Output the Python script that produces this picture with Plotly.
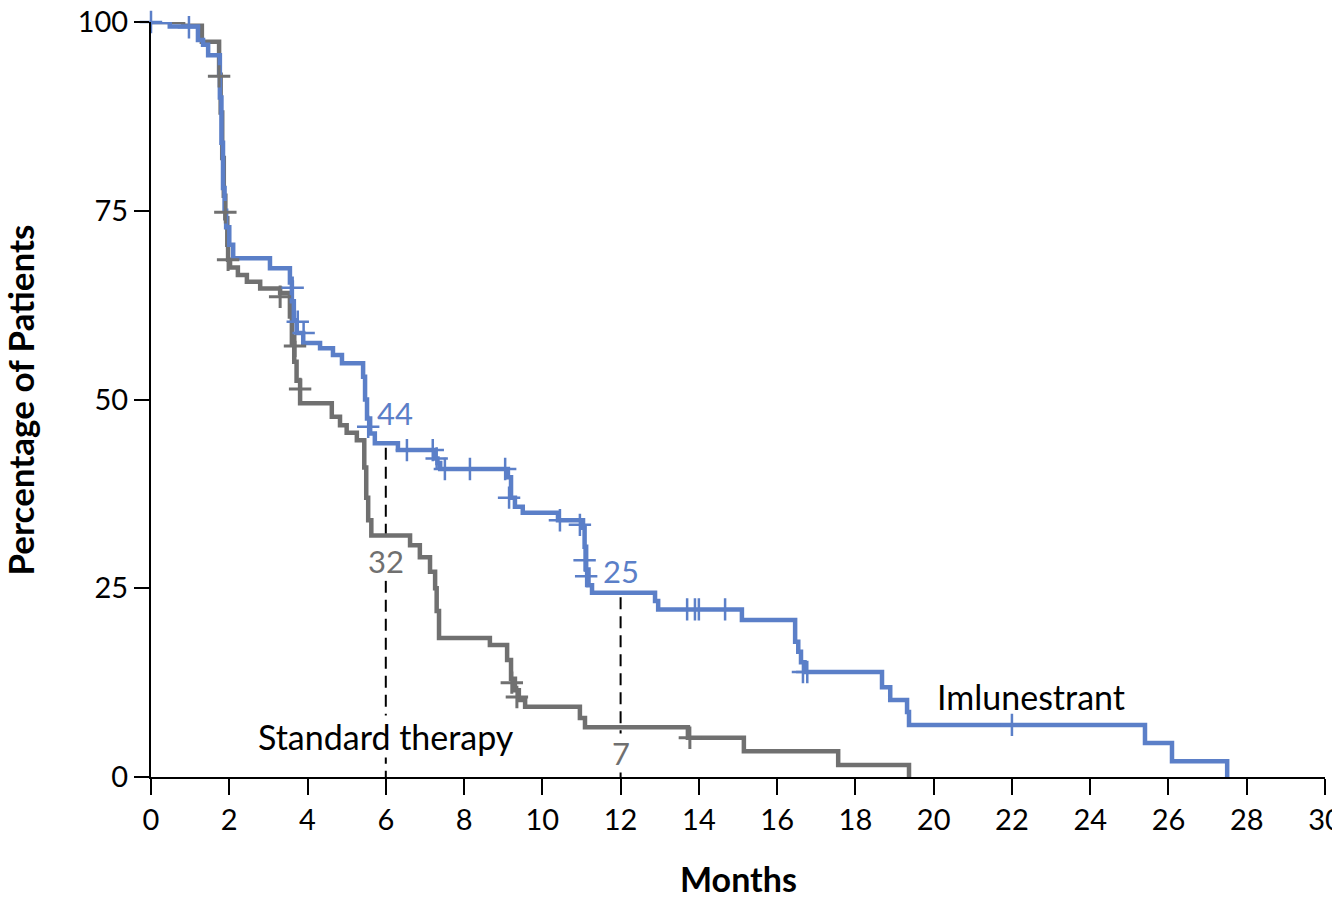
import plotly.graph_objects as go

# ---------------- data ----------------
# Imlunestrant Kaplan-Meier steps: time (months) and % after the step
imlu_t = [0, 0.48, 1.2, 1.33, 1.46, 1.76, 1.80, 1.84, 1.88, 1.92, 2.0, 2.1,
          3.04, 3.55, 3.6, 3.65, 3.72, 3.89, 4.32, 4.65, 4.88, 5.42, 5.47, 5.52,
          5.6, 5.72, 6.31, 7.26, 7.32, 7.39, 9.12, 9.2, 9.3, 9.5, 10.4, 11.04,
          11.08, 11.12, 11.18, 11.27, 12.88, 12.96, 15.1, 16.46, 16.54, 16.61,
          16.7, 18.68, 18.89, 19.32, 19.37, 25.4, 26.09, 27.5]
imlu_s = [100, 99.4, 97.6, 97.0, 95.6, 90.0, 84.0, 78.0, 75.0, 72.8, 70.5, 68.7,
          67.4, 65.5, 63.0, 60.5, 58.8, 57.5, 56.8, 55.9, 54.8, 53.0, 50.0, 47.5,
          45.5, 44.2, 43.3, 42.2, 41.6, 40.8, 39.7, 37.0, 35.8, 35.0, 34.0, 33.0,
          30.5, 27.5, 25.4, 24.4, 23.3, 22.2, 20.8, 17.9, 16.6, 15.2,
          13.9, 11.9, 10.2, 8.6, 6.9, 4.5, 2.1, 0]
imlu_cens_t = [0, 0.97, 3.62, 3.75, 3.9, 5.55, 6.54, 7.2, 7.3, 7.51, 8.15, 9.05,
               9.15, 10.45, 10.96, 11.08, 11.12, 13.7, 13.9, 14.0, 14.67, 16.66,
               16.77, 22.0]
imlu_cens_s = [100, 99.3, 64.8, 60.3, 58.8, 46.4, 43.3, 43.3, 42.2, 40.8, 40.8, 40.8,
               37.0, 34.0, 33.4, 28.7, 26.6, 22.2, 22.2, 22.2, 22.2, 13.9,
               13.9, 6.9]

# Standard therapy Kaplan-Meier steps
std_t = [0, 0.82, 1.3, 1.74, 1.78, 1.82, 1.86, 1.9, 1.95, 1.97, 2.02, 2.22,
         2.45, 2.79, 3.3, 3.55, 3.6, 3.66, 3.72, 3.81, 4.62, 4.83, 5.0, 5.26,
         5.45, 5.5, 5.55, 5.63, 6.62, 6.87, 7.13, 7.26, 7.3, 7.36, 8.66, 9.1,
         9.2, 9.3, 9.4, 9.56, 10.96, 11.09, 13.72, 15.15, 17.56, 19.37]
std_s = [100, 99.5, 97.4, 93.0, 88.0, 82.0, 77.0, 74.0, 70.5, 68.5, 67.5, 66.5,
         65.6, 64.7, 64.1, 61.0, 57.5, 55.0, 52.5, 49.5, 47.7, 46.6, 45.6, 44.6,
         41.0, 37.0, 34.0, 32.0, 30.7, 29.1, 27.2, 25.0, 22.0, 18.4, 17.5, 15.5,
         13.0, 11.5, 10.2, 9.3, 7.8, 6.6, 5.2, 3.4, 1.6, 0]
std_cens_t = [1.74, 1.9, 1.97, 3.3, 3.68, 3.81, 9.22, 9.35, 13.77]
std_cens_s = [92.8, 74.8, 68.5, 63.6, 57.1, 51.4, 12.5, 10.6, 5.2]

# landmark months and their printed percentages
landmarks = [6, 12]
imlu_land_labels = ["44", "25"]
std_land_labels = ["32", "7"]

x_ticks = list(range(0, 31, 2))
y_ticks = [0, 25, 50, 75, 100]

BLUE = "#5b7fc8"
GRAY = "#707070"
FONT = "Lato"


def step_value(ts, ss, x):
    v = ss[0]
    for t, s in zip(ts, ss):
        if t <= x:
            v = s
    return v


fig = go.Figure()

# dashed landmark lines (from the Imlunestrant curve down to 0)
for m in landmarks:
    top = step_value(imlu_t, imlu_s, m)
    fig.add_trace(go.Scatter(x=[m, m], y=[top - 0.6, 0], mode="lines",
                             line=dict(color="black", width=2, dash="12px,7px"),
                             hoverinfo="skip", showlegend=False))

fig.add_trace(go.Scatter(x=std_t, y=std_s, mode="lines", line_shape="hv",
                         line=dict(color=GRAY, width=4.5), name="Standard therapy",
                         cliponaxis=False, showlegend=False))
fig.add_trace(go.Scatter(x=imlu_t, y=imlu_s, mode="lines", line_shape="hv",
                         line=dict(color=BLUE, width=4.5), name="Imlunestrant",
                         cliponaxis=False, showlegend=False))
fig.add_trace(go.Scatter(x=std_cens_t, y=std_cens_s, mode="markers",
                         marker=dict(symbol="cross-thin", size=16,
                                     line=dict(color=GRAY, width=3)),
                         cliponaxis=False, showlegend=False))
fig.add_trace(go.Scatter(x=imlu_cens_t, y=imlu_cens_s, mode="markers",
                         marker=dict(symbol="cross-thin", size=16,
                                     line=dict(color=BLUE, width=2.5)),
                         cliponaxis=False, showlegend=False))

# landmark labels
for m, lab_i, lab_s in zip(landmarks, imlu_land_labels, std_land_labels):
    vi = step_value(imlu_t, imlu_s, m)
    vs = step_value(std_t, std_s, m)
    fig.add_annotation(x=m, y=vi, text=lab_i, showarrow=False,
                       font=dict(family=FONT, size=31, color=BLUE),
                       xanchor="center", yanchor="middle",
                       xshift=9 if m == 6 else 0, yshift=30 if m == 6 else 22)
    fig.add_annotation(x=m, y=vs, text=lab_s, showarrow=False,
                       font=dict(family=FONT, size=31, color=GRAY),
                       xanchor="center", yanchor="middle",
                       yshift=-26, bgcolor="white", borderpad=0)

fig.add_annotation(x=6, y=5.3, text="Standard therapy", showarrow=False,
                   font=dict(family=FONT, size=34, color="black"),
                   xanchor="center", yanchor="middle", bgcolor="white", borderpad=0)
fig.add_annotation(x=22.49, y=10.7, text="Imlunestrant", showarrow=False,
                   font=dict(family=FONT, size=34, color="black"),
                   xanchor="center", yanchor="middle")

# axis titles
fig.add_annotation(xref="paper", yref="paper", x=0.5, y=-0.134,
                   text="<b>Months</b>", showarrow=False,
                   font=dict(family=FONT, size=34, color="black"),
                   xanchor="center", yanchor="middle")
fig.add_annotation(xref="paper", yref="paper", x=-0.1116, y=0.5,
                   text="<b>Percentage of Patients</b>", showarrow=False,
                   textangle=-90,
                   font=dict(family=FONT, size=35, color="black"),
                   xanchor="center", yanchor="middle")

fig.update_layout(
    width=1332, height=897,
    margin=dict(l=151, r=7, t=22, b=120, autoexpand=False),
    paper_bgcolor="white", plot_bgcolor="white",
    font=dict(family=FONT, color="black"),
    xaxis=dict(range=[0, 30], tickvals=x_ticks, ticks="outside", ticklen=16,
               tickwidth=2, tickcolor="black", showline=True, linewidth=2,
               linecolor="black", showgrid=False, zeroline=False,
               ticklabeloverflow="allow", automargin=False,
               tickfont=dict(family=FONT, size=29, color="black")),
    yaxis=dict(range=[0, 100], tickvals=y_ticks, ticks="outside", ticklen=15,
               tickwidth=2, tickcolor="black", showline=True, linewidth=2,
               linecolor="black", showgrid=False, zeroline=False,
               automargin=False,
               tickfont=dict(family=FONT, size=29, color="black")),
)

fig.write_html("out.html")
